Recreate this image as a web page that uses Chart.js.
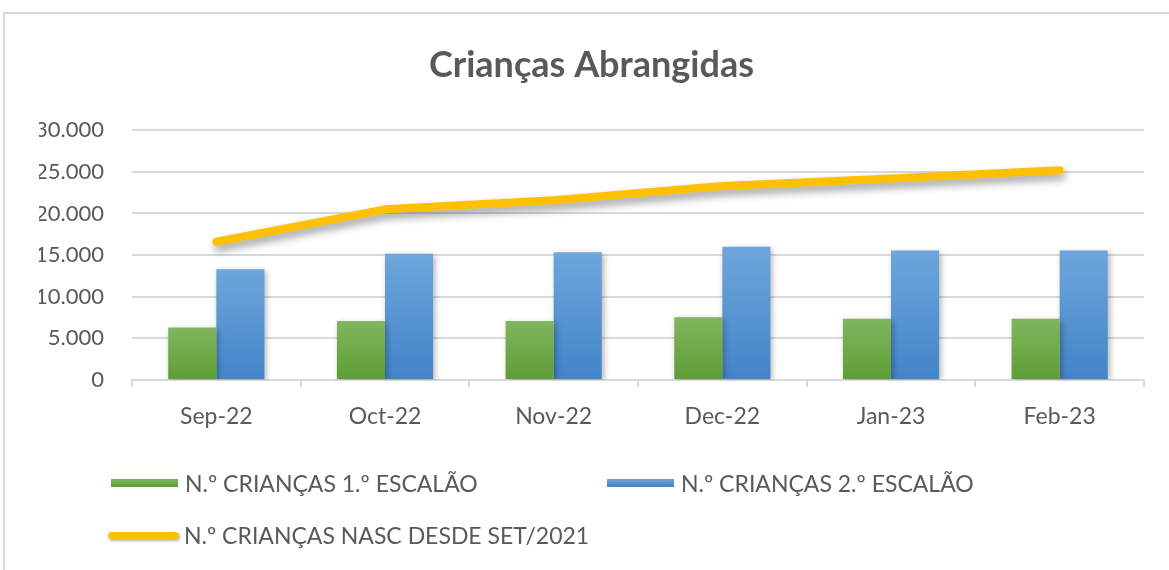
<!DOCTYPE html>
<html>
<head>
<meta charset="utf-8">
<script src="https://cdn.jsdelivr.net/npm/chart.js@4"></script>
<style>
    body { margin: 0; background: #fff; }
    #wrap { position: relative; width: 1169px; height: 570px; overflow: hidden; font-family: Lato, "Open Sans", sans-serif; }
    #frame { position: absolute; left: 3px; top: 12px; width: 1200px; height: 600px; border-left: 2px solid #d9d9d9; border-top: 2px solid #d9d9d9; }
    #chart { position: absolute; left: 0; top: 0; }
    .leg { position: absolute; display: flex; align-items: center; color: #595959; font-size: 23px; line-height: 28px; white-space: nowrap; }
    .leg .sw { width: 67px; height: 8px; margin-right: 7px; }
    .leg .ln { width: 71px; height: 7px; border-radius: 4px; margin-right: 5px; box-shadow: 1px 2px 3px rgba(0,0,0,0.3); }
</style>
</head>
<body>
<div id="wrap">
    <div id="frame"></div>
    <canvas id="chart" width="1169" height="570"></canvas>
    <div id="legend"></div>
</div>
<script>
// Chart data
const months = ['Sep-22', 'Oct-22', 'Nov-22', 'Dec-22', 'Jan-23', 'Feb-23'];
const escalao1 = [6300, 7100, 7100, 7550, 7350, 7350];
const escalao2 = [13300, 15150, 15350, 16000, 15550, 15550];
const nascDesde = [16600, 20500, 21600, 23300, 24200, 25200];
const seriesNames = ['N.º CRIANÇAS 1.º ESCALÃO', 'N.º CRIANÇAS 2.º ESCALÃO', 'N.º CRIANÇAS NASC DESDE SET/2021'];
const yTicks = [0, 5000, 10000, 15000, 20000, 25000, 30000];

const textColor = '#595959';
const gridColor = '#d9d9d9';

// Format 30000 as 30.000
function formatNumber(v) {
    return String(v).replace(/\B(?=(\d{3})+(?!\d))/g, '.');
}

// Vertical gradient per bar, lighter at the top
function barGradient(top, bottom) {
    return (context) => {
        const chart = context.chart;
        if (!chart.chartArea || context.parsed === undefined) return bottom;
        const yScale = chart.scales.y;
        const yTop = yScale.getPixelForValue(context.parsed.y);
        const yBase = yScale.getPixelForValue(0);
        const g = chart.ctx.createLinearGradient(0, yTop, 0, yBase);
        g.addColorStop(0, top);
        g.addColorStop(1, bottom);
        return g;
    };
}

// Soft drop shadow under the bars and the line
const shadowPlugin = {
    id: 'shadow',
    beforeDatasetDraw(chart, args) {
        const ctx = chart.ctx;
        ctx.save();
        const isLine = args.meta.type === 'line';
        ctx.shadowColor = isLine ? 'rgba(0,0,0,0.4)' : 'rgba(0,0,0,0.3)';
        ctx.shadowBlur = isLine ? 8 : 6;
        ctx.shadowOffsetX = 2;
        ctx.shadowOffsetY = isLine ? 5 : 2;
    },
    afterDatasetDraw(chart) {
        chart.ctx.restore();
    }
};

const chart = new Chart(document.getElementById('chart'), {
    data: {
        labels: months,
        datasets: [
            {
                type: 'line',
                label: seriesNames[2],
                data: nascDesde,
                borderColor: '#FFC000',
                backgroundColor: '#FFC000',
                borderWidth: 8,
                borderCapStyle: 'round',
                borderJoinStyle: 'round',
                pointRadius: 0,
                tension: 0,
                order: 0
            },
            {
                type: 'bar',
                label: seriesNames[0],
                data: escalao1,
                backgroundColor: barGradient('#80b65f', '#5e9d34'),
                order: 1
            },
            {
                type: 'bar',
                label: seriesNames[1],
                data: escalao2,
                backgroundColor: barGradient('#6ea6dc', '#4284c8'),
                order: 2
            }
        ]
    },
    options: {
        responsive: false,
        animation: false,
        devicePixelRatio: 1,
        // left padding only shifts the title centre; the y axis width fills the rest
        layout: { padding: { left: 39, right: 25, top: 0, bottom: 0 } },
        datasets: {
            bar: { categoryPercentage: 0.57, barPercentage: 1.0 }
        },
        plugins: {
            legend: { display: false },
            tooltip: { enabled: false },
            title: {
                display: true,
                text: 'Crianças Abrangidas',
                color: textColor,
                font: { family: 'Lato', size: 36, weight: 'bold', lineHeight: 1.2 },
                padding: { top: 44, bottom: 43 }
            }
        },
        scales: {
            x: {
                grid: {
                    display: true,
                    drawOnChartArea: false,
                    drawTicks: true,
                    tickLength: 7,
                    color: gridColor,
                    lineWidth: 2
                },
                border: { display: true, color: gridColor, width: 2 },
                ticks: {
                    color: textColor,
                    padding: 16,
                    font: { family: 'Lato', size: 23 }
                },
                afterFit: (scale) => { scale.height = 190; }
            },
            y: {
                min: 0,
                max: 30000,
                afterBuildTicks: (scale) => { scale.ticks = yTicks.map(v => ({ value: v })); },
                grid: { color: gridColor, lineWidth: 2, drawTicks: false },
                border: { display: false },
                ticks: {
                    color: textColor,
                    padding: 28,
                    font: { family: 'Lato', size: 22 },
                    callback: (v) => formatNumber(v)
                },
                afterFit: (scale) => { scale.width = 93; }
            }
        }
    },
    plugins: [shadowPlugin]
});

// Legend laid out like the original: two columns, line series on the second row
function buildLegend() {
    const legend = document.getElementById('legend');
    const places = [
        { ds: 1, left: 111, top: 469, kind: 'sw', color: 'linear-gradient(#80b65f, #5e9d34)' },
        { ds: 2, left: 607, top: 469, kind: 'sw', color: 'linear-gradient(#6ea6dc, #4284c8)' },
        { ds: 0, left: 108, top: 521, kind: 'ln', color: '#FFC000' }
    ];
    places.forEach(p => {
        const item = document.createElement('div');
        item.className = 'leg';
        item.style.left = p.left + 'px';
        item.style.top = p.top + 'px';
        const mark = document.createElement('span');
        mark.className = p.kind;
        mark.style.background = p.color;
        const label = document.createElement('span');
        label.textContent = chart.data.datasets[p.ds].label;
        item.appendChild(mark);
        item.appendChild(label);
        legend.appendChild(item);
    });
}

buildLegend();
</script>
</body>
</html>
